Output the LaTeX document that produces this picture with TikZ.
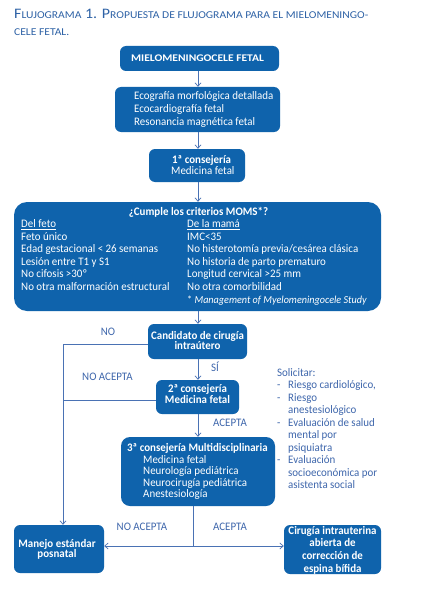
\documentclass[tikz,border=0pt]{standalone}
\usepackage{fontspec}
\setmainfont{Carlito}[FakeStretch=0.95]
\newfontfamily\titlefont{Carlito}[FakeStretch=1.1]
\newfontfamily\widebold{Carlito}[FakeStretch=1.13]
\usetikzlibrary{arrows.meta}
\definecolor{boxblue}{HTML}{0F63AC}
\definecolor{lineblue}{HTML}{4A72B4}
\definecolor{lblblue}{HTML}{3F67AC}
\definecolor{titleblue}{HTML}{2E62A6}
\newcommand\fsc[1]{{\fontsize{10.5}{10.5}\selectfont\MakeUppercase{#1}}}
\newcommand\fs{\fontsize{11.5}{13}\selectfont}
\begin{document}
\begin{tikzpicture}[x=1pt,y=-1pt,
  box/.style={fill=boxblue, rounded corners=6pt, inner sep=0pt, draw=none},
  wt/.style={text=white, inner sep=0pt, font=\fs},
  lbl/.style={text=lblblue, inner sep=0pt, font=\fs, anchor=base},
  ln/.style={draw=lineblue, line width=0.7pt},
  arr/.style={ln, -{Straight Barb[length=3.5pt,width=6pt]}}]
\useasboundingbox (0,0) rectangle (432,591);
\fill[white] (0,0) rectangle (432,591);
% title
\node[anchor=base west, inner sep=0pt, text=titleblue, font=\titlefont] (ti1) at (14,19)
  {\fontsize{14.5}{14.5}\selectfont F\fsc{lujograma} 1. P\fsc{ropuesta de flujograma para el mielomeningo-}};
\node[anchor=base west, inner sep=0pt, text=titleblue, font=\titlefont] (ti2) at (14,36) {\fsc{cele fetal.}};
% coordinates
\coordinate (mx) at (198,0);
\coordinate (bx) at (193,0);
\coordinate (lx) at (63,0);
% boxes
\node[box, minimum width=159pt, minimum height=25pt] (b1) at (199.5,58.5) {};
\node[box, minimum width=165pt, minimum height=45pt] (b2) at (197.5,109.5) {};
\node[box, minimum width=96pt, minimum height=33pt] (b3) at (197,165.5) {};
\node[box, rounded corners=13pt, minimum width=367pt, minimum height=109pt] (b4) at (197.5,256.5) {};
\node[box, minimum width=99pt, minimum height=35pt] (b5) at (197.5,341.5) {};
\node[box, minimum width=83pt, minimum height=34pt] (b6) at (197.5,397) {};
\node[box, rounded corners=9pt, minimum width=154pt, minimum height=69pt] (b7) at (198,471.5) {};
\node[box, minimum width=90pt, minimum height=48pt] (b8) at (59,549) {};
\node[box, minimum width=97pt, minimum height=49pt] (b9) at (332.5,549.5) {};
% box texts
\node[wt, anchor=base] (t1) at (197.5,62) {\widebold\fontsize{10.2}{12}\selectfont\bfseries MIELOMENINGOCELE FETAL};
\foreach \t [count=\i from 0] in {Ecografía morfológica detallada, Ecocardiografía fetal, Resonancia magnética fetal}
  \node[wt, anchor=base west] (t2\i) at (134,100+12.8*\i) {\t};
\node[wt, anchor=base west] (t3a) at (172,163) {\bfseries 1ª consejería};
\node[wt, anchor=base west] (t3b) at (171,174) {Medicina fetal};
\node[wt, anchor=base] (t4h) at (198.5,215) {\bfseries ¿Cumple los criterios MOMS*?};
\foreach \t [count=\i from 0] in {{\underline{Del feto}}, Feto único, Edad gestacional < 26 semanas, Lesión entre T1 y S1, No cifosis >30º, No otra malformación estructural}
  \node[wt, anchor=base west] (fl\i) at (21,227.5+12.6*\i) {\t};
\foreach \t [count=\i from 0] in {{\underline{De la mamá}}, IMC<35, No histerotomía previa/cesárea clásica, No historia de parto prematuro, Longitud cervical >25 mm, No otra comorbilidad}
  \node[wt, anchor=base west] (fr\i) at (187,227.5+12.6*\i) {\t};
\node[wt, anchor=base west] (fr6) at (187,303.1) {\fontsize{10.7}{12}\selectfont * \textit{Management of Myelomeningocele Study}};
\node[wt, anchor=base] (t5a) at (197.5,339) {\bfseries Candidato de cirugía};
\node[wt, anchor=base] (t5b) at (197.5,349.5) {\bfseries intraútero};
\node[wt, anchor=base] (t6a) at (197.5,392.5) {\bfseries 2ª consejería};
\node[wt, anchor=base] (t6b) at (197.5,403) {\bfseries Medicina fetal};
\node[wt, anchor=base west] (t7h) at (127,451.5) {\bfseries 3ª consejería Multidisciplinaria};
\foreach \t [count=\i from 0] in {Medicina fetal, Neurología pediátrica, Neurocirugía pediátrica, Anestesiología}
  \node[wt, anchor=base west] (t7\i) at (143,463.3+11.5*\i) {\t};
\node[wt, anchor=base] (t8a) at (57,547) {\bfseries Manejo estándar};
\node[wt, anchor=base] (t8b) at (57,557.7) {\bfseries posnatal};
\foreach \t [count=\i from 0] in {Cirugía intrauterina, abierta de, corrección de, espina bífida}
  \node[wt, anchor=base] (t9\i) at (332.5,534.3+12.6*\i) {\bfseries \t};
% side text
\node[lbl, anchor=base west] (s0) at (277,376) {Solicitar:};
\foreach \d/\t [count=\i from 1] in {-/{Riesgo cardiológico,}, -/Riesgo, /anestesiológico, -/Evaluación de salud, /mental por, /psiquiatra, -/Evaluación, /socioeconómica por, /asistenta social}
  \node[lbl, anchor=base west] (s\i) at (277,376+12.55*\i) {\makebox[11pt][l]{\d}\t};
% connectors
\draw[arr] (b1.south -| mx) -- (b2.north -| mx);
\draw[arr] (b2.south -| mx) -- (b3.north -| mx);
\draw[arr] (b3.south -| mx) -- (b4.north -| mx);
\draw[arr] (b4.south -| mx) -- (b5.north -| mx);
\draw[arr] (b5.south -| mx) -- (b6.north -| mx);
\draw[arr] (b6.south -| mx) -- (b7.north -| mx);
\draw[arr] ([yshift=-2.5pt]b5.west) -| (b8.north -| lx);
\draw[ln] ([yshift=-3pt]b6.west) -- ([yshift=-3pt]b6.west -| lx);
\coordinate (jn) at (193,546);
\draw[ln] (b7.south -| bx) -- (jn);
\draw[arr] (jn) -- (jn -| b8.east);
\draw[arr] (jn) -- (jn -| b9.west);
% labels
\node[lbl] (lno) at (108,335.7) {NO};
\node[lbl] (lsi) at (215,371.7) {SÍ};
\node[lbl] (lna) at (107.5,380.7) {NO ACEPTA};
\node[lbl] (lac) at (230,426.7) {ACEPTA};
\node[lbl] (lna2) at (142,530) {NO ACEPTA};
\node[lbl] (lac2) at (230,530) {ACEPTA};
\end{tikzpicture}
\end{document}
